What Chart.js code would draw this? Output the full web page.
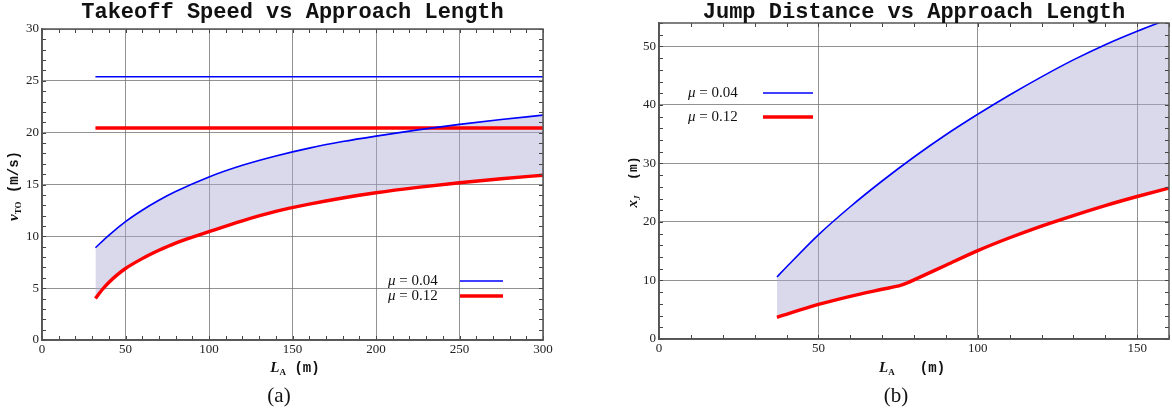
<!DOCTYPE html>
<html lang="en">
<head>
<meta charset="UTF-8">
<title>Takeoff Speed and Jump Distance vs Approach Length</title>
<script src="https://cdn.jsdelivr.net/npm/chart.js"></script>
<style>
  body { margin: 0; background: #fff; }
  #wrap { position: relative; width: 1172px; height: 416px; }
  canvas { position: absolute; top: 0; }
</style>
</head>
<body>
<div id="wrap">
  <canvas id="speedChart" width="586" height="416" style="left:0"></canvas>
  <canvas id="jumpChart" width="586" height="416" style="left:586px"></canvas>
</div>

<script>
// (a) takeoff speed (m/s) against approach length (m)
const speedLength004 = [32, 40, 50, 60, 70, 80, 100, 120, 140, 160, 180, 200, 225, 250, 275, 300];
const speedMu004 = [8.9, 10.1, 11.42, 12.52, 13.48, 14.32, 15.73, 16.85, 17.75, 18.51, 19.14, 19.67, 20.27, 20.8, 21.27, 21.69];
const speedLength012 = [32, 36, 40, 45, 50, 60, 70, 80, 100, 120, 140, 160, 180, 200, 225, 250, 275, 300];
const speedMu012 = [4.0, 4.85, 5.55, 6.28, 6.9, 7.85, 8.65, 9.35, 10.45, 11.5, 12.4, 13.1, 13.7, 14.2, 14.72, 15.17, 15.56, 15.9];
const limitLength = [32, 300];
const limitMu004 = [25.4, 25.4];
const limitMu012 = [20.45, 20.45];
const speedXTicks = [0, 50, 100, 150, 200, 250, 300];
const speedYTicks = [0, 5, 10, 15, 20, 25, 30];

// (b) jump distance (m) against approach length (m)
const jumpLength004 = [37, 40, 50, 60, 70, 80, 90, 100, 110, 120, 130, 140, 150, 160];
const jumpMu004 = [10.6, 12.3, 17.8, 22.6, 27.0, 31.1, 34.9, 38.4, 41.7, 44.8, 47.7, 50.3, 52.6, 54.7];
const jumpLength012 = [37, 50, 60, 70, 76, 78, 80, 90, 100, 110, 120, 130, 140, 150, 160];
const jumpMu012 = [3.7, 5.9, 7.3, 8.5, 9.2, 9.62, 10.1, 12.6, 15.1, 17.3, 19.3, 21.1, 22.8, 24.35, 25.8];
const jumpXTicks = [0, 50, 100, 150];
const jumpYTicks = [0, 10, 20, 30, 40, 50];

const BLUE = '#0000ff';
const RED = '#ff0000';
const SHADE = 'rgba(170, 170, 210, 0.45)';

function pts(xs, ys) {
    return xs.map((x, i) => ({ x: x, y: ys[i] }));
}

function scaleOpts(min, max, tickValues, fitSize, isX) {
    return {
        type: 'linear',
        min: min,
        max: max,
        afterBuildTicks: s => { s.ticks = tickValues.map(v => ({ value: v })); },
        afterFit: s => { if (isX) s.height = fitSize; else s.width = fitSize; },
        grid: { color: 'rgba(110, 110, 110, 0.75)', lineWidth: 1, drawTicks: false },
        border: { color: '#555', width: 1.5 },
        ticks: {
            padding: isX ? 2 : 3,
            font: { family: 'Liberation Serif', size: 13 },
            color: '#222',
            maxRotation: 0,
            autoSkip: false
        }
    };
}

// draws a row of text pieces (for subscripts / mixed fonts)
function drawRuns(ctx, runs, x, y, align) {
    let w = 0;
    runs.forEach(r => { ctx.font = r.font; r.w = ctx.measureText(r.text).width; w += r.w; });
    let cx = align === 'left' ? x : x - w / 2;
    runs.forEach(r => {
        ctx.font = r.font;
        ctx.fillText(r.text, cx, y + (r.dy || 0));
        cx += r.w;
    });
}

const decor = {
    id: 'decor',
    afterDraw(chart, args, o) {
        const ctx = chart.ctx;
        const a = chart.chartArea;
        const xs = chart.scales.x;
        const ys = chart.scales.y;
        ctx.save();

        // inward minor ticks on all four sides
        ctx.strokeStyle = '#444';
        ctx.lineWidth = 1;
        ctx.beginPath();
        for (let v = xs.min; v <= xs.max + 1e-9; v += o.xMinor) {
            const px = Math.round(xs.getPixelForValue(v)) + 0.5;
            ctx.moveTo(px, a.bottom); ctx.lineTo(px, a.bottom - 4);
            ctx.moveTo(px, a.top); ctx.lineTo(px, a.top + 4);
        }
        for (let v = ys.min; v <= ys.max + 1e-9; v += o.yMinor) {
            const py = Math.round(ys.getPixelForValue(v)) + 0.5;
            ctx.moveTo(a.left, py); ctx.lineTo(a.left + 4, py);
            ctx.moveTo(a.right, py); ctx.lineTo(a.right - 4, py);
        }
        ctx.stroke();

        // frame
        ctx.strokeStyle = '#555';
        ctx.lineWidth = 1.5;
        ctx.strokeRect(a.left, a.top, a.right - a.left, a.bottom - a.top);

        ctx.fillStyle = '#111';
        ctx.textBaseline = 'alphabetic';
        ctx.textAlign = 'left';

        // title
        drawRuns(ctx, [{ text: o.title, font: 'bold 22px "Liberation Mono"' }], (a.left + a.right) / 2, 18);

        // x axis title
        drawRuns(ctx, o.xTitle, o.xTitlePos[0], o.xTitlePos[1]);

        // caption
        drawRuns(ctx, [{ text: o.caption, font: '21px "Liberation Serif"' }], o.captionPos[0], o.captionPos[1]);

        // y axis title (rotated)
        ctx.save();
        ctx.translate(o.yTitlePos[0], o.yTitlePos[1]);
        ctx.rotate(-Math.PI / 2);
        drawRuns(ctx, o.yTitle, 0, 5);
        ctx.restore();

        // legend
        o.legend.forEach(item => {
            drawRuns(ctx, [
                { text: 'μ', font: 'italic 15px "Liberation Serif"' },
                { text: ' = ' + item.label, font: '15px "Liberation Serif"' }
            ], o.legendX, item.y + 4, 'left');
            ctx.strokeStyle = item.color;
            ctx.lineWidth = item.width;
            ctx.beginPath();
            ctx.moveTo(o.legendLine[0], item.y);
            ctx.lineTo(o.legendLine[1], item.y);
            ctx.stroke();
        });

        ctx.restore();
    }
};

const commonOptions = {
    responsive: false,
    animation: false,
    elements: {
        point: { radius: 0 },
        line: { cubicInterpolationMode: 'monotone', borderCapStyle: 'butt' }
    }
};

new Chart(document.getElementById('speedChart'), {
    type: 'line',
    data: {
        datasets: [
            { data: pts(speedLength004, speedMu004), borderColor: BLUE, borderWidth: 1.6, backgroundColor: SHADE, fill: 1 },
            { data: pts(speedLength012, speedMu012), borderColor: RED, borderWidth: 3.4, fill: false },
            { data: pts(limitLength, limitMu004), borderColor: BLUE, borderWidth: 1.6, fill: false },
            { data: pts(limitLength, limitMu012), borderColor: RED, borderWidth: 3.4, fill: false }
        ]
    },
    options: Object.assign({}, commonOptions, {
        layout: { padding: { top: 29, right: 43, bottom: 0, left: 0 } },
        scales: {
            x: scaleOpts(0, 300, speedXTicks, 76, true),
            y: scaleOpts(0, 30, speedYTicks, 42, false)
        },
        plugins: {
            legend: { display: false },
            tooltip: { enabled: false },
            filler: { drawTime: 'beforeDatasetsDraw' },
            decor: {
                xMinor: 10, yMinor: 1,
                title: 'Takeoff Speed vs Approach Length',
                xTitle: [
                    { text: 'L', font: 'bold italic 15px "Liberation Serif"' },
                    { text: 'A', font: 'bold 9px "Liberation Serif"', dy: 3 },
                    { text: ' (m)', font: 'bold 14px "Liberation Mono"' }
                ],
                xTitlePos: [295, 372],
                caption: '(a)',
                captionPos: [279, 402],
                yTitle: [
                    { text: 'v', font: 'bold italic 15px "Liberation Serif"' },
                    { text: 'TO', font: 'bold 9px "Liberation Serif"', dy: 3 },
                    { text: ' (m/s)', font: 'bold 14px "Liberation Mono"' }
                ],
                yTitlePos: [13, 186],
                legendX: 388,
                legendLine: [460, 503],
                legend: [
                    { label: '0.04', color: BLUE, width: 1.6, y: 281 },
                    { label: '0.12', color: RED, width: 3.4, y: 296 }
                ]
            }
        }
    }),
    plugins: [decor]
});

new Chart(document.getElementById('jumpChart'), {
    type: 'line',
    data: {
        datasets: [
            { data: pts(jumpLength004, jumpMu004), borderColor: BLUE, borderWidth: 1.6, backgroundColor: SHADE, fill: 1 },
            { data: pts(jumpLength012, jumpMu012), borderColor: RED, borderWidth: 3.4, fill: false }
        ]
    },
    options: Object.assign({}, commonOptions, {
        layout: { padding: { top: 23, right: 3, bottom: 0, left: 0 } },
        scales: {
            x: scaleOpts(0, 160, jumpXTicks, 77, true),
            y: scaleOpts(0, 54, jumpYTicks, 73, false)
        },
        plugins: {
            legend: { display: false },
            tooltip: { enabled: false },
            filler: { drawTime: 'beforeDatasetsDraw' },
            decor: {
                xMinor: 10, yMinor: 2,
                title: 'Jump Distance vs Approach Length',
                xTitle: [
                    { text: 'L', font: 'bold italic 15px "Liberation Serif"' },
                    { text: 'A', font: 'bold 9px "Liberation Serif"', dy: 3 },
                    { text: '   (m)', font: 'bold 14px "Liberation Mono"' }
                ],
                xTitlePos: [326, 372],
                caption: '(b)',
                captionPos: [310, 402],
                yTitle: [
                    { text: 'x', font: 'bold italic 15px "Liberation Serif"' },
                    { text: 'J', font: 'bold italic 9px "Liberation Serif"', dy: 3 },
                    { text: '  (m)', font: 'bold 13px "Liberation Mono"' }
                ],
                yTitlePos: [46, 182],
                legendX: 102,
                legendLine: [177, 227],
                legend: [
                    { label: '0.04', color: BLUE, width: 1.6, y: 93 },
                    { label: '0.12', color: RED, width: 3.4, y: 117 }
                ]
            }
        }
    }),
    plugins: [decor]
});
</script>
</body>
</html>
